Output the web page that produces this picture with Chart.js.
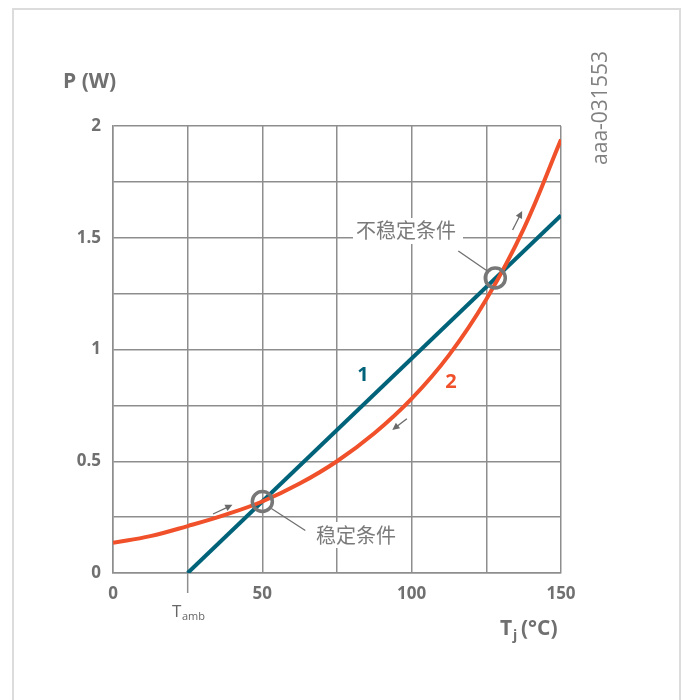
<!DOCTYPE html>
<html>
<head>
<meta charset="utf-8">
<script src="https://cdn.jsdelivr.net/npm/chart.js@4.4.0/dist/chart.umd.min.js"></script>
<style>
  body { margin: 0; background: #fff; }
  #wrap { width: 686px; height: 700px; position: relative; }
</style>
</head>
<body>
<div id="wrap"><canvas id="chartPower" width="686" height="700"></canvas></div>
<script>
// curve 1: heat removal line, starts at Tamb
const line1Temp = [25, 150];
const line1Power = [0, 1.6];

// curve 2: dissipated power vs junction temperature
const curve2Temp = [0, 12.5, 25, 37.5, 50, 62.5, 75, 87.5, 100, 112.5, 125, 137.5, 150];
const curve2Power = [0.135, 0.165, 0.21, 0.26, 0.32, 0.4, 0.5, 0.625, 0.78, 0.975, 1.225, 1.54, 1.94];

// operating points (stable / unstable)
const opTemp = [50, 128];
const opPower = [0.32, 1.32];

const xLabelTicks = [0, 50, 100, 150];
const yLabelTicks = [0, 0.5, 1, 1.5, 2];

const GRAY = "#707070";
const GRID = "#8e8e8e";
const TEAL = "#00637a";
const ORANGE = "#f0502a";

function toXY(xs, ys) {
  return xs.map((x, i) => ({ x: x, y: ys[i] }));
}

function arrow(ctx, x1, y1, x2, y2) {
  const a = Math.atan2(y2 - y1, x2 - x1);
  ctx.beginPath();
  ctx.moveTo(x1, y1);
  ctx.lineTo(x2 - 4 * Math.cos(a), y2 - 4 * Math.sin(a));
  ctx.stroke();
  ctx.beginPath();
  ctx.moveTo(x2, y2);
  ctx.lineTo(x2 - 8 * Math.cos(a - 0.45), y2 - 8 * Math.sin(a - 0.45));
  ctx.lineTo(x2 - 8 * Math.cos(a + 0.45), y2 - 8 * Math.sin(a + 0.45));
  ctx.closePath();
  ctx.fill();
}

const decorations = {
  id: "decorations",
  beforeDraw(chart) {
    const ctx = chart.ctx;
    ctx.save();
    ctx.fillStyle = "#fff";
    ctx.fillRect(0, 0, chart.width, chart.height);
    ctx.strokeStyle = "#dcdcdc";
    ctx.lineWidth = 2;
    ctx.strokeRect(13, 9, 667, 760);
    ctx.restore();
  },
  afterDraw(chart) {
    const ctx = chart.ctx;
    const xs = chart.scales.x;
    const ys = chart.scales.y;
    const px = (v) => xs.getPixelForValue(v);
    const py = (v) => ys.getPixelForValue(v);
    ctx.save();

    // Tamb tick below the axis
    ctx.strokeStyle = GRID;
    ctx.lineWidth = 1.5;
    ctx.beginPath();
    ctx.moveTo(px(25), py(0));
    ctx.lineTo(px(25), py(0) + 20);
    ctx.stroke();

    // axis titles
    ctx.fillStyle = GRAY;
    ctx.textBaseline = "alphabetic";
    ctx.textAlign = "left";
    ctx.font = "bold 21px 'Open Sans'";
    ctx.fillText("P (W)", 63, 88);
    ctx.fillText("T", 500, 635);
    ctx.font = "bold 14px 'Open Sans'";
    ctx.fillText("j", 513, 640);
    ctx.font = "bold 21px 'Open Sans'";
    ctx.fillText("(°C)", 521, 635);

    ctx.font = "17px 'Open Sans'";
    ctx.fillStyle = "#666";
    ctx.fillText("T", 172, 617);
    ctx.font = "11px 'Open Sans'";
    ctx.fillText("amb", 182, 620);

    // figure id, vertical
    ctx.save();
    ctx.translate(607, 108);
    ctx.rotate(-Math.PI / 2);
    ctx.textAlign = "center";
    ctx.font = "21px 'Open Sans'";
    ctx.fillStyle = "#808080";
    ctx.fillText("aaa-031553", 0, 0);
    ctx.restore();

    // curve numbers
    ctx.textAlign = "center";
    ctx.font = "bold 20px 'Open Sans'";
    ctx.fillStyle = TEAL;
    ctx.fillText("1", 363, 381);
    ctx.fillStyle = ORANGE;
    ctx.fillText("2", 451, 388);

    // leader lines
    ctx.strokeStyle = "#707070";
    ctx.lineWidth = 1.3;
    ctx.beginPath();
    ctx.moveTo(px(opTemp[0]) + 9, py(opPower[0]) + 7);
    ctx.lineTo(px(opTemp[0]) + 43, py(opPower[0]) + 29);
    ctx.moveTo(px(opTemp[1]) - 8, py(opPower[1]) - 7);
    ctx.lineTo(px(opTemp[1]) - 37, py(opPower[1]) - 27);
    ctx.stroke();

    // labels with white background
    ctx.font = "20px 'Noto Sans CJK SC'";
    ctx.textBaseline = "middle";
    ctx.fillStyle = "#fff";
    ctx.fillRect(353, 218, 110, 26);
    ctx.fillRect(311, 522, 90, 26);
    ctx.fillStyle = "#7a7a7a";
    ctx.fillText("不稳定条件", 406, 230);
    ctx.fillText("稳定条件", 356, 535);

    // direction arrows
    ctx.strokeStyle = "#6a6a6a";
    ctx.fillStyle = "#6a6a6a";
    ctx.lineWidth = 1.3;
    arrow(ctx, px(33.5), py(0.264), px(40), py(0.305));
    arrow(ctx, px(98.4), py(0.69), px(93.5), py(0.64));
    arrow(ctx, px(133.8), py(1.535), px(137), py(1.62));

    ctx.restore();
  },
};

const ctx = document.getElementById("chartPower").getContext("2d");
const chartPower = new Chart(ctx, {
  type: "scatter",
  data: {
    datasets: [
      {
        label: "1",
        data: toXY(line1Temp, line1Power),
        showLine: true,
        borderColor: TEAL,
        borderWidth: 4,
        pointRadius: 0,
        order: 2,
      },
      {
        label: "2",
        data: toXY(curve2Temp, curve2Power),
        showLine: true,
        borderColor: ORANGE,
        borderWidth: 4,
        pointRadius: 0,
        tension: 0.4,
        order: 1,
      },
      {
        label: "op",
        data: toXY(opTemp, opPower),
        showLine: false,
        pointRadius: 10,
        pointBorderWidth: 3.5,
        pointBorderColor: "#777777",
        pointBackgroundColor: "rgba(0,0,0,0)",
        order: 0,
      },
    ],
  },
  options: {
    responsive: false,
    animation: false,
    layout: { padding: { top: 126, right: 125, bottom: 0, left: 0 } },
    scales: {
      x: {
        type: "linear",
        min: 0,
        max: 150,
        afterFit: (s) => { s.height = 127; },
        afterBuildTicks: (s) => {
          s.ticks = [0, 25, 50, 75, 100, 125, 150].map((v) => ({ value: v }));
        },
        ticks: {
          padding: 11,
          color: GRAY,
          font: { family: "Open Sans", size: 17, weight: "bold" },
          callback: (v) => (xLabelTicks.includes(v) ? String(v) : ""),
        },
        grid: { color: GRID, lineWidth: 1.5, drawTicks: false },
        border: { color: GRID, width: 1.5 },
      },
      y: {
        type: "linear",
        min: 0,
        max: 2,
        afterFit: (s) => { s.width = 113; },
        afterBuildTicks: (s) => {
          s.ticks = [0, 0.25, 0.5, 0.75, 1, 1.25, 1.5, 1.75, 2].map((v) => ({ value: v }));
        },
        ticks: {
          padding: 12,
          color: GRAY,
          font: { family: "Open Sans", size: 17, weight: "bold" },
          callback: (v) => (yLabelTicks.includes(v) ? String(v) : ""),
        },
        grid: { color: GRID, lineWidth: 1.5, drawTicks: false },
        border: { color: GRID, width: 1.5 },
      },
    },
    plugins: {
      legend: { display: false },
      tooltip: { enabled: false },
    },
  },
  plugins: [decorations],
});
</script>
</body>
</html>
